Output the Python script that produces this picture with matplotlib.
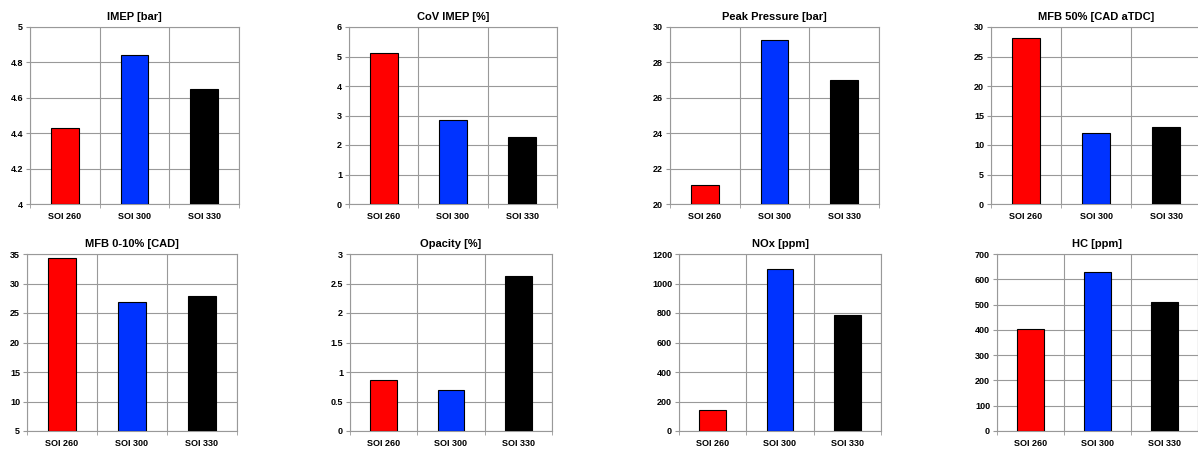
import matplotlib.pyplot as plt
import numpy as np

plt.rcParams['font.family'] = ['Liberation Sans', 'DejaVu Sans']
plt.rcParams['font.weight'] = 'bold'

categories = ['SOI 260', 'SOI 300', 'SOI 330']
bar_colors = ['#ff0000', '#0033ff', '#000000']

titles = ['IMEP [bar]', 'CoV IMEP [%]', 'Peak Pressure [bar]', 'MFB 50% [CAD aTDC]',
          'MFB 0-10% [CAD]', 'Opacity [%]', 'NOx [ppm]', 'HC [ppm]']

imep = [4.43, 4.84, 4.65]
cov_imep = [5.12, 2.84, 2.26]
peak_pressure = [21.1, 29.25, 27.0]
mfb50 = [28.2, 12.0, 13.1]
mfb0_10 = [34.4, 26.8, 27.8]
opacity = [0.86, 0.69, 2.62]
nox = [143, 1098, 785]
hc = [405, 628, 512]

series = [imep, cov_imep, peak_pressure, mfb50, mfb0_10, opacity, nox, hc]

yticks = [
    [4, 4.2, 4.4, 4.6, 4.8, 5],
    [0, 1, 2, 3, 4, 5, 6],
    [20, 22, 24, 26, 28, 30],
    [0, 5, 10, 15, 20, 25, 30],
    [5, 10, 15, 20, 25, 30, 35],
    [0, 0.5, 1, 1.5, 2, 2.5, 3],
    [0, 200, 400, 600, 800, 1000, 1200],
    [0, 100, 200, 300, 400, 500, 600, 700],
]
ytick_labels = [
    ['4', '4.2', '4.4', '4.6', '4.8', '5'],
    ['0', '1', '2', '3', '4', '5', '6'],
    ['20', '22', '24', '26', '28', '30'],
    ['0', '5', '10', '15', '20', '25', '30'],
    ['5', '10', '15', '20', '25', '30', '35'],
    ['0', '0.5', '1', '1.5', '2', '2.5', '3'],
    ['0', '200', '400', '600', '800', '1000', '1200'],
    ['0', '100', '200', '300', '400', '500', '600', '700'],
]

W, H = 1198, 450
# axes boxes in pixels: left, top, right, bottom
boxes = [
    (30, 27, 239, 204), (349, 27, 557, 204), (670, 27, 879, 204), (991, 27, 1201, 204),
    (27, 254, 237, 431), (350, 254, 552, 431), (679, 254, 881, 431), (997, 254, 1198, 431),
]

fig = plt.figure(figsize=(W / 100, H / 100), dpi=100)
grid_c = '#999999'
x = np.arange(len(categories))

for i in range(8):
    l, t, r, b = boxes[i]
    ax = fig.add_axes([l / W, 1 - b / H, (r - l) / W, (b - t) / H])
    lo, hi = yticks[i][0], yticks[i][-1]
    vals = np.array(series[i])
    ax.bar(x, vals - lo, bottom=lo, width=0.4, color=bar_colors,
           edgecolor='black', linewidth=0.8, zorder=3)
    ax.set_xlim(-0.5, 2.5)
    ax.set_ylim(lo, hi)
    ax.set_yticks(yticks[i])
    ax.set_yticklabels(ytick_labels[i], fontweight='bold')
    ax.set_xticks(x)
    ax.set_xticklabels(categories, fontweight='bold')
    ax.set_xticks([-0.5, 0.5, 1.5, 2.5], minor=True)
    ax.tick_params(axis='x', which='major', length=0, pad=6, labelsize=6.5)
    ax.tick_params(axis='x', which='minor', length=3, color=grid_c, direction='out')
    ax.tick_params(axis='y', length=3, color=grid_c, labelsize=6.5, pad=2)
    ax.grid(True, axis='y', color=grid_c, linewidth=0.8, zorder=0)
    ax.grid(True, axis='x', which='minor', color=grid_c, linewidth=0.8, zorder=0)
    for s in ax.spines.values():
        s.set_color(grid_c)
        s.set_linewidth(0.8)
    ax.set_title(titles[i], fontsize=8, fontweight='bold', pad=5)

fig.savefig('out.png', dpi=100)
